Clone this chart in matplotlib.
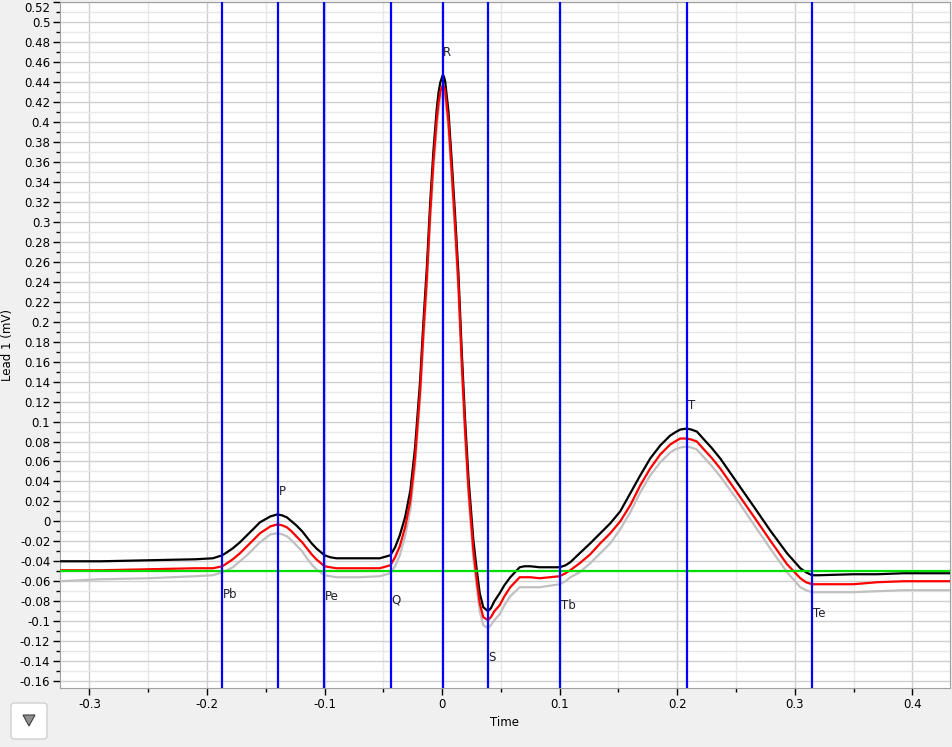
import matplotlib
matplotlib.use("Agg")
import matplotlib.pyplot as plt
from matplotlib.ticker import MultipleLocator, FuncFormatter
from matplotlib.patches import FancyBboxPatch, Polygon

plt.rcParams['axes.unicode_minus'] = False
plt.rcParams['font.family'] = ['DejaVu Sans']

# sample times (s)
t = [-0.325, -0.29, -0.25, -0.21, -0.195, -0.187, -0.183, -0.178, -0.172, -0.166,
     -0.160, -0.155, -0.146, -0.140, -0.136, -0.132, -0.128, -0.124, -0.119, -0.115,
     -0.111, -0.107, -0.100, -0.095, -0.090, -0.070, -0.053, -0.044, -0.040, -0.036,
     -0.0315, -0.027, -0.023, -0.0187, -0.016, -0.013, -0.0102, -0.0074, -0.0045, -0.003,
     -0.0015, 0.0005, 0.0015, 0.0026, 0.0054, 0.0082, 0.011, 0.0139, 0.0168, 0.0196,
     0.0224, 0.0266, 0.0295, 0.032, 0.035, 0.039, 0.0415, 0.0445, 0.049, 0.053,
     0.058, 0.066, 0.070, 0.075, 0.083, 0.100, 0.105, 0.109, 0.117, 0.126,
     0.1345, 0.143, 0.1515, 0.160, 0.1685, 0.177, 0.1855, 0.194, 0.198, 0.2025,
     0.208, 0.212, 0.2167, 0.222, 0.229, 0.2366, 0.2508, 0.265, 0.279, 0.2934,
     0.3047, 0.3095, 0.3146, 0.320, 0.35, 0.37, 0.3926, 0.432]

beat_black = [-0.040, -0.040, -0.039, -0.038, -0.037, -0.034, -0.031, -0.027, -0.021, -0.014,
              -0.007, -0.001, 0.005, 0.007, 0.006, 0.004, 0.000, -0.004, -0.010, -0.016,
              -0.022, -0.027, -0.034, -0.036, -0.037, -0.037, -0.037, -0.034, -0.026, -0.014,
              0.004, 0.031, 0.074, 0.141, 0.198, 0.254, 0.318, 0.371, 0.414, 0.430,
              0.440, 0.447, 0.446, 0.441, 0.411, 0.361, 0.308, 0.248, 0.168, 0.101,
              0.044, -0.019, -0.049, -0.072, -0.086, -0.090, -0.087, -0.080, -0.072, -0.064,
              -0.056, -0.046, -0.045, -0.045, -0.046, -0.046, -0.044, -0.041, -0.032, -0.022,
              -0.012, -0.002, 0.010, 0.028, 0.046, 0.063, 0.076, 0.086, 0.089, 0.092,
              0.093, 0.092, 0.090, 0.083, 0.074, 0.063, 0.039, 0.015, -0.009, -0.032,
              -0.047, -0.051, -0.054, -0.054, -0.053, -0.053, -0.052, -0.052]

beat_red = [-0.049, -0.049, -0.048, -0.047, -0.047, -0.045, -0.042, -0.038, -0.032, -0.025,
            -0.018, -0.012, -0.005, -0.003, -0.004, -0.006, -0.010, -0.015, -0.021, -0.027,
            -0.033, -0.038, -0.045, -0.046, -0.047, -0.047, -0.047, -0.044, -0.036, -0.025,
            -0.006, 0.021, 0.064, 0.131, 0.188, 0.244, 0.308, 0.361, 0.404, 0.420,
            0.431, 0.437, 0.436, 0.432, 0.401, 0.351, 0.298, 0.238, 0.158, 0.091,
            0.034, -0.029, -0.059, -0.082, -0.096, -0.099, -0.096, -0.090, -0.084, -0.075,
            -0.066, -0.056, -0.056, -0.056, -0.057, -0.055, -0.052, -0.049, -0.042, -0.033,
            -0.022, -0.012, 0.000, 0.016, 0.036, 0.053, 0.067, 0.077, 0.080, 0.083,
            0.083, 0.082, 0.080, 0.073, 0.064, 0.053, 0.029, 0.005, -0.019, -0.043,
            -0.057, -0.061, -0.063, -0.063, -0.063, -0.061, -0.060, -0.060]

beat_gray = [-0.060, -0.058, -0.057, -0.055, -0.054, -0.051, -0.049, -0.046, -0.040, -0.034,
             -0.027, -0.021, -0.013, -0.012, -0.013, -0.015, -0.019, -0.024, -0.030, -0.037,
             -0.043, -0.048, -0.054, -0.055, -0.056, -0.056, -0.055, -0.052, -0.045, -0.034,
             -0.015, 0.012, 0.055, 0.122, 0.179, 0.235, 0.299, 0.352, 0.395, 0.412,
             0.424, 0.430, 0.429, 0.425, 0.392, 0.342, 0.289, 0.229, 0.149, 0.082,
             0.025, -0.038, -0.067, -0.090, -0.104, -0.107, -0.104, -0.099, -0.093, -0.084,
             -0.075, -0.066, -0.066, -0.066, -0.066, -0.063, -0.060, -0.056, -0.051, -0.042,
             -0.032, -0.022, -0.008, 0.009, 0.029, 0.046, 0.059, 0.069, 0.072, 0.074,
             0.075, 0.074, 0.072, 0.065, 0.056, 0.045, 0.022, -0.003, -0.027, -0.051,
             -0.066, -0.069, -0.071, -0.071, -0.071, -0.070, -0.069, -0.069]

baseline = -0.05

# fiducial markers
marker_names = ['Pb', 'P', 'Pe', 'Q', 'R', 'S', 'Tb', 'T', 'Te']
marker_times = [-0.187, -0.1396, -0.1004, -0.0434, 0.0005, 0.0391, 0.1004, 0.2085, 0.3149]
marker_label_y = [-0.073, 0.030, -0.075, -0.079, 0.470, -0.136, -0.084, 0.116, -0.092]

fig = plt.figure(figsize=(9.52, 7.47), dpi=100, facecolor='#f0f0f0')
ax = fig.add_axes([60 / 952, 59 / 747, 890 / 952, 686 / 747])
ax.set_facecolor('white')

line_kw = dict(lw=1.6, solid_joinstyle='round', solid_capstyle='round')
ax.plot(t, beat_gray, color='#c0c0c0', zorder=3, **line_kw)
ax.plot(t, beat_black, color='black', zorder=4, **line_kw)
ax.plot(t, beat_red, color='#ff0000', zorder=5, **line_kw)
ax.axhline(baseline, color='#00e000', lw=1.6, zorder=6)
for name, xm, ym in zip(marker_names, marker_times, marker_label_y):
    ax.axvline(xm, color='#0000ff', lw=1.6, zorder=7)
    ax.text(xm + 0.0005, ym, name, ha='left', va='center', fontsize=8.5,
            color='#1e1e2e', zorder=8)

ax.set_xlim(-0.325, 0.432)
ax.set_ylim(-0.167, 0.5205)

ax.xaxis.set_major_locator(MultipleLocator(0.1))
ax.xaxis.set_minor_locator(MultipleLocator(0.05))
ax.yaxis.set_major_locator(MultipleLocator(0.02))
ax.yaxis.set_minor_locator(MultipleLocator(0.01))
fmt = FuncFormatter(lambda v, p: '%g' % round(v, 4))
ax.xaxis.set_major_formatter(fmt)
ax.yaxis.set_major_formatter(fmt)

ax.grid(which='major', color='#cfcfcf', lw=1.0, zorder=0)
ax.grid(which='minor', color='#e8e8e8', lw=1.0, zorder=0)
ax.set_axisbelow(True)

ax.tick_params(which='major', length=5, width=1, color='black', labelsize=8.5, pad=2)
ax.tick_params(which='minor', length=3, width=1, color='black')
for s in ax.spines.values():
    s.set_color('#a0a0a0')

ax.set_xlabel('Time', fontsize=8.5, labelpad=4)
ax.set_ylabel('Lead 1 (mV)', fontsize=8.5, labelpad=4)

# top label pushed inside like the original
fig.canvas.draw()
for tick in ax.yaxis.get_major_ticks():
    if tick.label1.get_text() == '0.52':
        tick.label1.set_va('top')

# small dropdown button in the corner
fig.add_artist(FancyBboxPatch((11 / 952, 8 / 747), 36 / 952, 36 / 747,
                              boxstyle='round,pad=0,rounding_size=0.004',
                              transform=fig.transFigure, facecolor='white',
                              edgecolor='#d0d0d0', lw=1))
fig.add_artist(Polygon([(23 / 952, 32 / 747), (35 / 952, 32 / 747), (29 / 952, 21 / 747)],
                       closed=True, transform=fig.transFigure,
                       facecolor='#909090', edgecolor='#404040', lw=0.8))

fig.savefig('out.png', dpi=100, facecolor=fig.get_facecolor())
